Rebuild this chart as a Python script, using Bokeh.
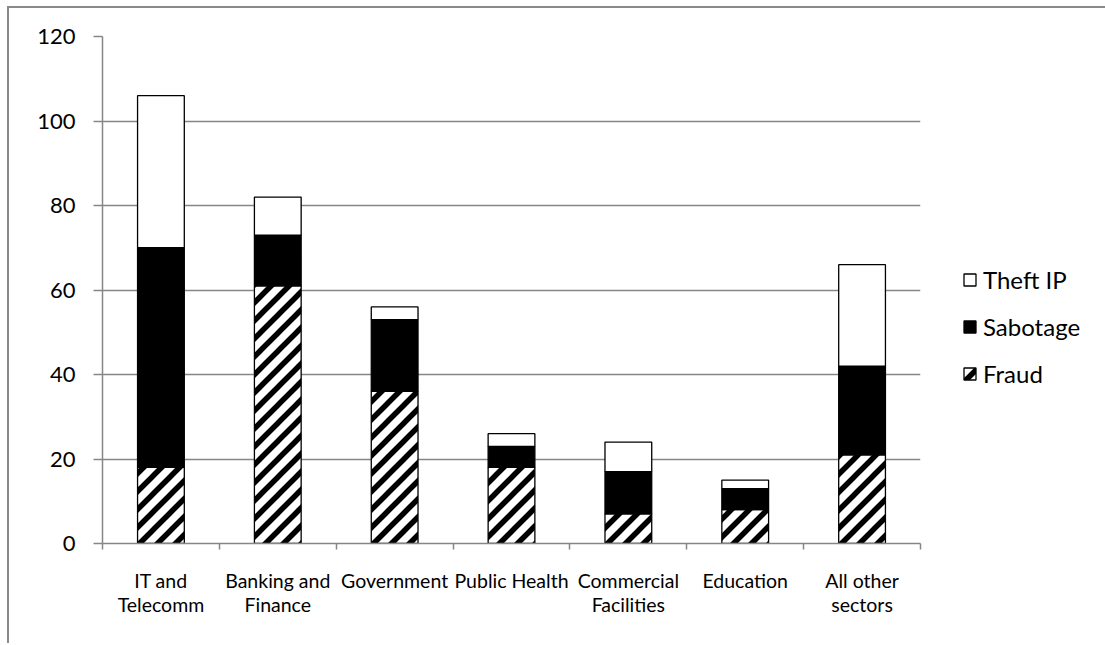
import base64
from bokeh.plotting import figure
from bokeh.models import (Range1d, FixedTicker, LinearAxis, Legend, LegendItem,
                          ColumnDataSource, Grid, ImageURLTexture)
from bokeh.core.properties import value
from bokeh.embed import file_html
from bokeh.resources import INLINE

categories = ["IT and\nTelecomm", "Banking and\nFinance", "Government", "Public Health",
              "Commercial\nFacilities", "Education", "All other\nsectors"]
fraud = [18, 61, 36, 18, 7, 8, 21]
sabotage = [52, 12, 17, 5, 10, 5, 21]
theft_ip = [36, 9, 3, 3, 7, 2, 24]
y_ticks = [0, 20, 40, 60, 80, 100, 120]

centers = [i + 0.5 for i in range(len(categories))]
bounds = [float(i) for i in range(len(categories) + 1)]

src = ColumnDataSource(dict(x=centers, fraud=fraud, sabotage=sabotage, theft=theft_ip))

FONT = "Lato"
GRAY = "#868686"

# 45-degree "/" stripe tile as an SVG image texture
tile_svg = ("<svg xmlns='http://www.w3.org/2000/svg' width='18' height='18'>"
            "<path d='M-3,21 L21,-3 M-3,3 L3,-3 M15,21 L21,15' "
            "stroke='black' stroke-width='5.5' fill='none'/></svg>")
tile_url = "data:image/svg+xml;base64," + base64.b64encode(tile_svg.encode()).decode()
stripes = ImageURLTexture(url=tile_url, repetition="repeat")

p = figure(output_backend="svg", toolbar_location=None,
           frame_width=818, frame_height=507,
           min_border_left=93, min_border_top=28, min_border_right=185, min_border_bottom=100,
           x_range=Range1d(0, len(categories)), y_range=Range1d(0, 120),
           x_axis_type=None, y_axis_type=None)
p.styles = {"margin-left": "7px", "margin-top": "6px",
            "border-top": "2px solid #8a8a8a", "border-left": "2px solid #8a8a8a"}
p.outline_line_color = None
p.background_fill_color = "white"
p.border_fill_color = "white"

yaxis = LinearAxis(ticker=FixedTicker(ticks=y_ticks))
yaxis.axis_line_color = GRAY
yaxis.axis_line_width = 1.5
yaxis.major_tick_line_color = GRAY
yaxis.major_tick_line_width = 1.5
yaxis.major_tick_out = 9
yaxis.major_tick_in = 0
yaxis.minor_tick_line_color = None
yaxis.major_label_standoff = 18
yaxis.major_label_text_font = FONT
yaxis.major_label_text_font_size = "22px"
yaxis.major_label_text_color = "black"
p.add_layout(yaxis, "left")

xaxis = LinearAxis(ticker=FixedTicker(ticks=centers, minor_ticks=bounds))
xaxis.major_label_overrides = {c: lab for c, lab in zip(centers, categories)}
xaxis.axis_line_color = GRAY
xaxis.axis_line_width = 1.5
xaxis.major_tick_line_color = None
xaxis.major_tick_out = 6
xaxis.major_tick_in = 0
xaxis.minor_tick_line_color = GRAY
xaxis.minor_tick_line_width = 1.5
xaxis.minor_tick_out = 6
xaxis.minor_tick_in = 0
xaxis.major_label_standoff = 19
xaxis.major_label_text_font = FONT
xaxis.major_label_text_font_size = "19.5px"
xaxis.major_label_text_color = "black"
xaxis.major_label_text_line_height = 1.08
p.add_layout(xaxis, "below")

p.grid.grid_line_color = None
g = Grid(dimension=1, ticker=FixedTicker(ticks=y_ticks), grid_line_color=GRAY, grid_line_width=1.5)
p.add_layout(g)

rs = p.vbar_stack(["fraud", "sabotage", "theft"], x="x", width=0.4, source=src,
                  fill_color=["white", "black", "white"],
                  line_color="black", line_width=1.3,
                  hatch_pattern=[value("stripes"), " ", " "], hatch_color="black",
                  hatch_extra={"stripes": stripes},
                  hatch_scale=18, hatch_weight=5.5)

legend = Legend(items=[LegendItem(label="Theft IP", renderers=[rs[2]]),
                       LegendItem(label="Sabotage", renderers=[rs[1]]),
                       LegendItem(label="Fraud", renderers=[rs[0]])],
                location=(42, 155), orientation="vertical",
                glyph_width=15, glyph_height=15, label_height=30, spacing=17,
                padding=0, margin=0, label_standoff=6,
                label_text_font=FONT, label_text_font_size="24px",
                label_text_color="black", border_line_color=None,
                background_fill_alpha=0)
p.add_layout(legend, "right")

open("out.html", "w").write(file_html(p, INLINE))
